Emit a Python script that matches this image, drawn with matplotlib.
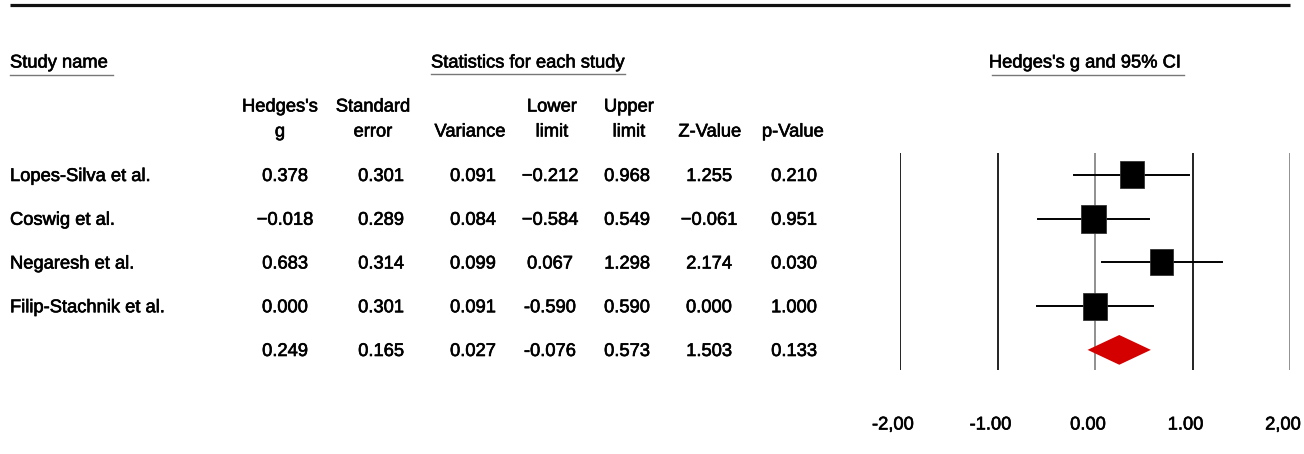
import matplotlib
matplotlib.use("Agg")
from matplotlib import pyplot as plt
from matplotlib import patheffects as pe
from matplotlib import transforms as mtrans
from matplotlib.patches import Rectangle, Polygon

plt.rcParams["font.family"] = ["Liberation Sans", "DejaVu Sans"]

studies = ["Lopes-Silva et al.", "Coswig et al.", "Negaresh et al.",
           "Filip-Stachnik et al.", ""]
g = [0.378, -0.018, 0.683, 0.000, 0.249]
se = [0.301, 0.289, 0.314, 0.301, 0.165]
var = [0.091, 0.084, 0.099, 0.091, 0.027]
lower = [-0.212, -0.584, 0.067, -0.590, -0.076]
upper = [0.968, 0.549, 1.298, 0.590, 0.573]
zval = [1.255, -0.061, 2.174, 0.000, 1.503]
pval = [0.210, 0.951, 0.030, 1.000, 0.133]

# the original table mixes true minus signs and hyphens
g_txt = ["0.378", "\u22120.018", "0.683", "0.000", "0.249"]
se_txt = ["0.301", "0.289", "0.314", "0.301", "0.165"]
var_txt = ["0.091", "0.084", "0.099", "0.091", "0.027"]
lower_txt = ["\u22120.212", "\u22120.584", "0.067", "-0.590", "-0.076"]
upper_txt = ["0.968", "0.549", "1.298", "0.590", "0.573"]
z_txt = ["1.255", "\u22120.061", "2.174", "0.000", "1.503"]
p_txt = ["0.210", "0.951", "0.030", "1.000", "0.133"]

col_heads = [("Hedges's", "g"), ("Standard", "error"), ("", "Variance"),
             ("Lower", "limit"), ("Upper", "limit"), ("", "Z-Value"),
             ("", "p-Value")]
col_x = [285, 381, 473, 550, 627, 709, 794]
head_x = [280, 373, 470, 552, 629, 710, 793]

ticks = [-2, -1, 0, 1, 2]
tick_labels = ["-2,00", "-1.00", "0.00", "1.00", "2,00"]

W, H = 1304, 454
fig = plt.figure(figsize=(W / 100, H / 100), dpi=100)
fs = 13.2
# slightly heavier strokes on the glyphs
tkw = dict(fontsize=fs, va="center",
           path_effects=[pe.withStroke(linewidth=0.45, foreground="black")])

# pixel-space layer for the table text
ax0 = fig.add_axes([0, 0, 1, 1])
ax0.set_xlim(0, W)
ax0.set_ylim(H, 0)
ax0.axis("off")

ax0.plot([10, 1290], [5, 5], color="#111111", lw=2.3, solid_capstyle="butt")

ax0.text(10, 63, "Study name", ha="left", **tkw)
ax0.plot([10, 113], [75, 75], color="#777777", lw=1.0)
ax0.text(431, 63, "Statistics for each study", ha="left", **tkw)
ax0.plot([431, 625], [74, 74], color="#777777", lw=1.0)
ax0.text(1085, 63, "Hedges's g and 95% CI", ha="center", **tkw)
ax0.plot([992, 1184], [75, 75], color="#777777", lw=1.0)

for (top, bottom), x in zip(col_heads, head_x):
    if top:
        ax0.text(x, 107, top, ha="center", **tkw)
    ax0.text(x, 132, bottom, ha="center", **tkw)

row_y = [175, 218.75, 262.5, 306.25, 350]
columns = [g_txt, se_txt, var_txt, lower_txt, upper_txt, z_txt, p_txt]
for i, name in enumerate(studies):
    ax0.text(10, row_y[i] + 1.5, name, ha="left", **tkw)
    for col, x in zip(columns, col_x):
        ax0.text(x, row_y[i] + 1.5, col[i], ha="center", **tkw)

# forest plot, -2..2 mapped onto pixels 900..1290, rows 153..370
ax = fig.add_axes([900 / W, 1 - 370 / H, 390 / W, 217 / H])
ax.set_xlim(-2, 2)
ax.set_ylim(4.46, -0.5)
ax.axis("off")
for t in ticks:
    ax.axvline(t, color="#888888" if t in (0, 2) else "#111111", lw=1.3, zorder=1)

# scale labels sit a little left of their gridlines
lab_tr = mtrans.offset_copy(
    mtrans.blended_transform_factory(ax.transData, ax0.transData),
    fig=fig, x=-7, y=0, units="dots")
for t, lab in zip(ticks, tick_labels):
    ax.text(t, 425, lab, ha="center", transform=lab_tr, clip_on=False, **tkw)

n = len(studies) - 1
w = [1 / v for v in var[:n]]
wmax = max(w)
for i in range(n):
    ax.plot([lower[i], upper[i]], [i, i], color="black", lw=1.4, zorder=2)
    scale = (w[i] / wmax) ** 0.5
    bw = 0.26 * scale
    bh = 0.64 * scale
    ax.add_patch(Rectangle((g[i] - bw / 2, i - bh / 2), bw, bh,
                           facecolor="black", edgecolor="#333333", lw=0.6, zorder=3))

k = n
ax.add_patch(Polygon([(lower[k], k), (g[k], k - 0.34), (upper[k], k), (g[k], k + 0.34)],
                     closed=True, facecolor="#d40000", edgecolor="none", zorder=3))

fig.savefig("out.png", dpi=100)
